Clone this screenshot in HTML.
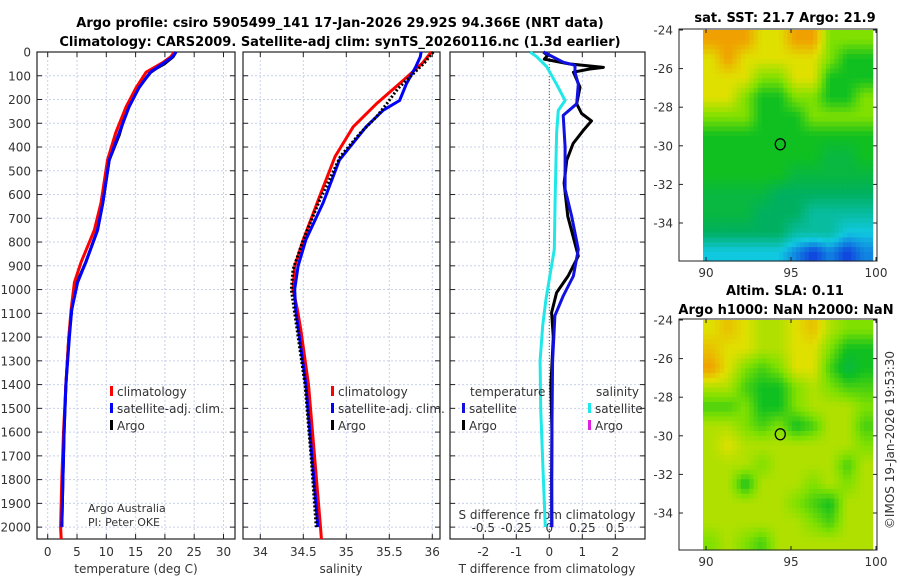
<!DOCTYPE html>
<html><head><meta charset="utf-8">
<style>
html,body{margin:0;padding:0;background:#fff;}
svg{display:block;font-family:"DejaVu Sans","Liberation Sans",sans-serif;}
.t{font-size:12px;fill:#333;}
.b{font-size:13px;font-weight:bold;fill:#000;}
</style></head>
<body>
<svg id="fig" width="900" height="580" viewBox="0 0 900 580"></svg>
<script>
// ---------- DATA ----------
const tempDepths = [0,20,45,85,150,230,340,455,635,750,885,970,1085,1200,1400,1600,1800,2000];
const tempClim   = [21.6,21,19.6,16.8,15.1,13.4,11.6,10.2,9.1,7.95,5.7,4.55,4.0,3.6,3.1,2.7,2.4,2.2];
const tempSat    = [21.9,21.3,19.9,17.5,15.6,13.9,12.2,10.5,9.4,8.5,6.5,5.1,4.1,3.7,3.1,2.8,2.6,2.4];
const tempArgoDepths = [0,20,50,70,85,150,250,300,350,455,635,750,885,970,1085,1200,1400,1600,1800,2000];
const tempArgo   = [21.9,21.4,19.9,18.5,17.6,15.5,13.5,12.8,12.2,10.5,9.4,8.5,6.5,5.0,4.1,3.6,3.1,2.8,2.6,2.4];
const salDepths  = [0,45,120,218,315,440,608,790,901,999,1082,1166,1400,1700,2000];
const salClim    = [35.99,35.89,35.66,35.35,35.08,34.87,34.69,34.50,34.40,34.38,34.43,34.47,34.56,34.63,34.70];
const salSatDepths=[0,20,60,133,204,245,315,455,635,790,901,999,1082,1400,1700,2000];
const salSat     = [35.87,35.86,35.81,35.70,35.62,35.43,35.23,34.92,34.73,34.53,34.44,34.40,34.41,34.53,34.60,34.67];
const salArgoDepths=[0,45,112,154,218,273,342,440,625,790,915,999,1050,1400,1700,2000];
const salArgo    = [36.01,35.91,35.72,35.60,35.47,35.35,35.16,34.93,34.69,34.50,34.38,34.36,34.38,34.52,34.59,34.65];
const dTArgoDepths=[0,15,30,50,65,72,85,148,218,259,290,330,385,455,552,692,859,943,1013,1097,1200,1400,1600,1800,2000];
const dTArgo     = [-0.18,-0.05,-0.15,0.6,1.64,1.2,0.73,0.93,0.83,0.98,1.28,1.03,0.72,0.53,0.45,0.56,0.88,0.57,0.22,0.07,0.12,0.05,0.08,0.07,0.08];
const dTSatDepths= [0,43,56,85,136,218,267,400,577,692,831,943,1027,1110,1300,1600,2000];
const dTSat      = [-0.18,0.42,0.78,0.78,0.88,0.83,0.42,0.48,0.48,0.68,0.88,0.73,0.42,0.17,0.1,0.08,0.07];
const dSSatDepths= [0,20,62,136,204,246,342,607,831,957,1040,1152,1300,1500,1800,2000];
const dSSat      = [-0.145,-0.095,-0.02,0.055,0.12,0.068,0.055,0.045,0.038,0,-0.025,-0.05,-0.07,-0.065,-0.045,-0.03];
const depthTicks = [0,100,200,300,400,500,600,700,800,900,1000,1100,1200,1300,1400,1500,1600,1700,1800,1900,2000];
const tempTicks  = [0,5,10,15,20,25,30];
const salTicks   = [34,34.5,35,35.5,36];
const salTickLabels = ["34","34.5","35","35.5","36"];
const dTTicks    = [-2,-1,0,1,2];
const dSTicks    = [-0.5,-0.25,0,0.25,0.5];
const dSTickLabels = ["-0.5","-0.25","0","0.25","0.5"];
// maps: rows from -24 southward in 1 deg steps, cols from 90 east
const mapLats = [-24,-25,-26,-27,-28,-29,-30,-31,-32,-33,-34,-35];
const mapLons = [89.8,90.8,91.8,92.8,93.8,94.8,95.8,96.8,97.8,98.8];
const sstGrid = [
[6,6,6,5,5,6,6,4,4,4],
[5,6,5,5,5,5,5,4,3,3],
[5,5,5,4,4,5,5,3,3,3],
[5,5,4,3,3,4,4,3,3,4],
[4,4,4,3,3,3,4,4,4,4],
[3,3,3,3,3,3,3,3,3,3],
[3,3,3,3,3,3,3,2.5,2.5,3],
[3,3,3,3,3,2.5,2.5,2.5,2.5,2.5],
[2.5,2.5,2.5,2.5,2,2,2,2,2,2],
[2.5,2.5,2.5,2,2,2,1.5,1.5,1.5,1.5],
[2,2,2,2,2,1.5,1.5,1.5,1,1],
[1,1,1,1,1,0.5,0,0.5,0,0.5]];
const slaGrid = [
[5,5.5,5,4.5,4.5,5,5.5,4.5,4,4],
[5.5,5,5,4.5,4.5,5,5,4,3,3],
[6,5,4,3.5,4,5,5,3.5,2.5,3],
[4.5,4.5,3.5,3,3,4,4.5,4,3.5,3.5],
[3.5,3.5,4,3,3,4,4.5,4.5,4.5,4],
[4.5,4.5,4,3.5,4,3,3.5,4.5,4.5,3.5],
[4.5,5,4.5,4.5,4.5,4.5,4.5,4.5,4.5,4],
[4.5,4.5,4.5,4,4.5,4.5,4.5,4.5,3.5,4.5],
[4.5,4.5,3,4.5,4.5,4.5,4,4.5,4,4.5],
[4.5,4.5,4.5,4.5,4.5,4,3.5,3,4.5,4.5],
[4.5,4.5,4.5,4.5,4.5,4.5,4,3.5,4.5,4.5],
[4,4.5,4,3.5,4.5,4.5,4.5,4.5,4.5,4.5]];
const floatLon = 94.37, floatLat = -29.92;
const mapLatTicks = [-24,-26,-28,-30,-32,-34];
const mapLonTicks = [90,95,100];

// ---------- helpers ----------
const NS="http://www.w3.org/2000/svg";
const svg=document.getElementById('fig');
function mk(tag,attrs,parent){const e=document.createElementNS(NS,tag);for(const k in attrs)e.setAttribute(k,attrs[k]);(parent||svg).appendChild(e);return e;}
function txt(x,y,s,cls,anchor,parent){const e=mk('text',{x:x,y:y,class:cls||'t','text-anchor':anchor||'middle'},parent);e.textContent=s;return e;}
const yTop=52,yBot=539;
const dScale=d=>yTop+d*(yBot-yTop)/2050;
function lin(d0,d1,r0,r1){return v=>r0+(v-d0)*(r1-r0)/(d1-d0);}
const xT=lin(0,30,47.7,223.5);
const xS=lin(34,36,260.3,432.3);
const xDT=lin(0,1,549.3,582.3);
const xDS=v=>xDT(v*4);

function panel(x0,x1,vticks,xf,name){
  const g=mk('g',{});
  
  
  depthTicks.forEach(d=>{const y=dScale(d);mk('line',{x1:x0,x2:x1,y1:y,y2:y,stroke:'#c9d0ea','stroke-width':1,'stroke-dasharray':'2,2'},g);
    mk('line',{x1:x0,x2:x0+5,y1:y,y2:y,stroke:'#222'},g);mk('line',{x1:x1-5,x2:x1,y1:y,y2:y,stroke:'#222'},g);});
  vticks.forEach(v=>{const x=xf(v);mk('line',{x1:x,x2:x,y1:yTop,y2:yBot,stroke:'#c9d0ea','stroke-width':1,'stroke-dasharray':'2,2'},g);
    mk('line',{x1:x,x2:x,y1:yTop,y2:yTop+5,stroke:'#222'},g);mk('line',{x1:x,x2:x,y1:yBot-5,y2:yBot,stroke:'#222'},g);});
  mk('rect',{x:x0,y:yTop,width:x1-x0,height:yBot-yTop,fill:'none',stroke:'#222','stroke-width':1.2},g);
  return g;
}
function line(vals,depths,xf,color,name,dash,w){
  const pts=vals.map((v,i)=>xf(v).toFixed(1)+','+dScale(depths[i]).toFixed(1)).join(' ');
  const p=mk('polyline',{points:pts,fill:'none',stroke:color,'stroke-width':w||3,'stroke-linejoin':'round'});
  if(dash)p.setAttribute('stroke-dasharray',dash);
  
  
  return p;
}

let e=txt(340,27,'Argo profile: csiro 5905499_141 17-Jan-2026 29.92S 94.366E (NRT data)','b');

e=txt(340,46,'Climatology: CARS2009. Satellite-adj clim: synTS_20260116.nc (1.3d earlier)','b');


panel(37,235,tempTicks,xT,'temperature-panel');
panel(243,440,salTicks,xS,'salinity-panel');
panel(450,645,dTTicks,xDT,'difference-panel');

depthTicks.forEach(d=>{const t=txt(31,dScale(d)+4.5,String(d),'t','end');
  });
tempTicks.forEach(v=>{const t=txt(xT(v),556,String(v));});
salTicks.forEach((v,i)=>{const t=txt(xS(v),556,salTickLabels[i]);});
dTTicks.forEach(v=>{const t=txt(xDT(v),556,String(v));});
dSTicks.forEach((v,i)=>{const t=txt(xDS(v),532,dSTickLabels[i]);});
e=txt(136,573,'temperature (deg C)');
e=txt(341,573,'salinity');
e=txt(547,573,'T difference from climatology');
e=txt(547,519,'S difference from climatology');

mk('line',{x1:xDT(0),x2:xDT(0),y1:yTop,y2:yBot,stroke:'#555','stroke-width':1,'stroke-dasharray':'1,2'});

line(tempArgo,tempArgoDepths,xT,'#000','temp-argo-line');
line(tempClim.concat([2.3]),tempDepths.concat([2050]),xT,'#f00','temp-clim-line');
line(tempSat,tempDepths,xT,'#00f','temp-sat-line');
line(salClim.concat([34.71]),salDepths.concat([2050]),xS,'#f00','sal-clim-line');
line(salSat,salSatDepths,xS,'#00f','sal-sat-line');
line(salArgo,salArgoDepths,xS,'#000','sal-argo-line','2,2');
line(dSSat,dSSatDepths,xDS,'#20e8e8','ds-sat-line');
line(dTArgo,dTArgoDepths,xDT,'#000','dt-argo-line');
line(dTSat,dTSatDepths,xDT,'#1010e0','dt-sat-line');

function legItem(x,y,color,label,name){
  const g=mk('g',{});
  mk('rect',{x:x,y:y-10,width:3,height:10,fill:color},g);
  txt(x+7,y,label,'t','start',g);
}
legItem(110,396,'#f00','climatology','legend-climatology');
legItem(110,413,'#00f','satellite-adj. clim.','legend-satellite-adj');
legItem(110,430,'#000','Argo','legend-argo');
legItem(331,396,'#f00','climatology','legend-climatology-2');
legItem(331,413,'#00f','satellite-adj. clim.','legend-satellite-adj-2');
legItem(331,430,'#000','Argo','legend-argo-2');
e=txt(470,396,'temperature','t','start');
e=txt(596,396,'salinity','t','start');
legItem(462,413,'#1010e0','satellite','legend-t-satellite');
legItem(462,430,'#000','Argo','legend-t-argo');
legItem(588,413,'#20e8e8','satellite','legend-s-satellite');
legItem(588,430,'#e020e0','Argo','legend-s-argo');
e=txt(88,512,'Argo Australia','t','start');e.style.fontSize='11px';
e=txt(88,526,'PI: Peter OKE','t','start');e.style.fontSize='11px';

// ---------- maps ----------
const cstops=[[0,[16,64,224]],[1,[16,200,224]],[2,[0,176,96]],[3,[16,192,32]],[4,[128,224,0]],[5,[224,224,0]],[6,[240,160,0]]];
function cmap(v){for(let i=0;i<cstops.length-1;i++){const a=cstops[i],b=cstops[i+1];if(v<=b[0]){const f=Math.max(0,(v-a[0])/(b[0]-a[0]));const c=a[1].map((q,k)=>Math.round(q+(b[1][k]-q)*f));return 'rgb('+c.join(',')+')';}}return 'rgb(240,160,0)';}
function sample(grid,fr,fc){ // bilinear at fractional cell-center coords
  const R=grid.length,C=grid[0].length;
  fr=Math.max(0,Math.min(R-1,fr));fc=Math.max(0,Math.min(C-1,fc));
  const r0=Math.floor(fr),c0=Math.floor(fc),r1=Math.min(R-1,r0+1),c1=Math.min(C-1,c0+1);
  const a=fr-r0,b=fc-c0;
  return grid[r0][c0]*(1-a)*(1-b)+grid[r0][c1]*(1-a)*b+grid[r1][c0]*a*(1-b)+grid[r1][c1]*a*b;
}
function drawMap(grid,yT,yB,name,circleName){
  const bx0=679,bx1=877;
  const xL=lin(90,100,706,876);
  const yL=lin(-24,-34,yT+1,yT+1+193);
  const g=mk('g',{});
  const sub=4;
  const lon0=mapLons[0], lat0=mapLats[0];
  for(let r=0;r<grid.length*sub;r++){
    for(let c=0;c<grid[0].length*sub;c++){
      const lonA=lon0+c/sub, latA=lat0-r/sub;
      const x0=Math.max(xL(lonA),703),x1=Math.min(xL(lonA+1/sub),877);
      const y0=Math.max(yL(latA),yT),y1=Math.min(yL(latA-1/sub),yB);
      if(x1<=x0||y1<=y0)continue;
      const v=sample(grid,(r+0.5)/sub-0.5,(c+0.5)/sub-0.5);
      const cell=mk('rect',{x:x0.toFixed(2),y:y0.toFixed(2),width:(x1-x0+0.6).toFixed(2),height:(y1-y0+0.6).toFixed(2),fill:cmap(v)},g);
      
      
    }
  }
  // top strip above -24 (bottom map)
  mk('rect',{x:bx0,y:yT,width:bx1-bx0,height:yB-yT,fill:'none',stroke:'#222','stroke-width':1},g);
  mapLatTicks.forEach(v=>{const y=yL(v);mk('line',{x1:bx0,x2:bx0+4,y1:y,y2:y,stroke:'#222'},g);mk('line',{x1:bx1-4,x2:bx1,y1:y,y2:y,stroke:'#222'},g);
    const t=txt(673,y+4.5,String(v),'t','end',g);});
  mapLonTicks.forEach(v=>{const x=xL(v);mk('line',{x1:x,x2:x,y1:yB-4,y2:yB,stroke:'#222'},g);mk('line',{x1:x,x2:x,y1:yT,y2:yT+4,stroke:'#222'},g);
    const t=txt(x,yB+16,String(v),'t','middle',g);});
  const c=mk('ellipse',{cx:xL(floatLon),cy:yL(floatLat),rx:5,ry:5.5,fill:'none',stroke:'#000','stroke-width':1.3},g);
  
}
drawMap(sstGrid,29,261,'sst-map','sst-float-marker');
drawMap(slaGrid,319,550,'sla-map','sla-float-marker');
e=txt(785,22,'sat. SST: 21.7 Argo: 21.9','b');
e=txt(785,295,'Altim. SLA: 0.11','b');
e=txt(786,314,'Argo h1000: NaN h2000: NaN','b');
e=txt(0,0,'©IMOS 19-Jan-2026 19:53:30','t','middle');
e.setAttribute('transform','translate(894,440) rotate(-90)');

</script>
</body></html>
